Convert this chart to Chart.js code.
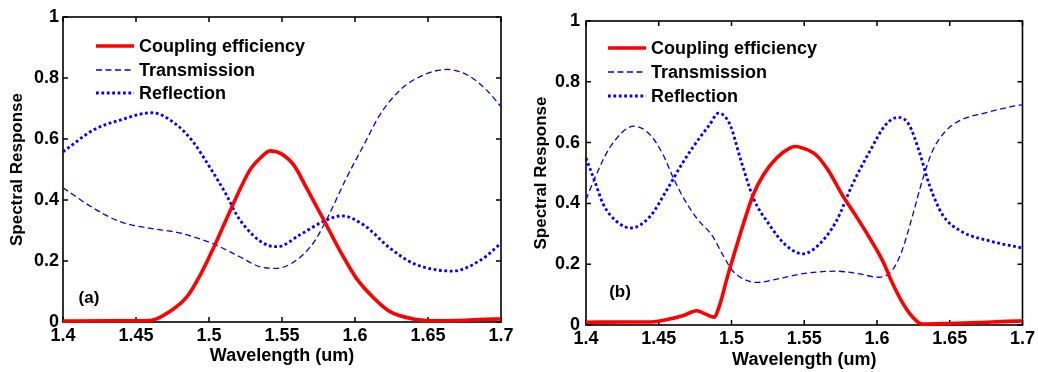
<!DOCTYPE html>
<html>
<head>
<meta charset="utf-8">
<script src="https://cdn.jsdelivr.net/npm/chart.js@4/dist/chart.umd.min.js"></script>
<style>
  html, body { margin: 0; padding: 0; background: #ffffff; }
  #wrap { position: relative; width: 1038px; height: 372px; overflow: hidden; }
  .panel { position: absolute; top: 0; width: 519px; height: 372px; }
</style>
</head>
<body>
<div id="wrap">
  <div class="panel" style="left:0px"><canvas id="chartA"></canvas></div>
  <div class="panel" style="left:519px"><canvas id="chartB"></canvas></div>
</div>
<script>
// ---- axis ticks ----
const xTicks = [1.4, 1.45, 1.5, 1.55, 1.6, 1.65, 1.7];
const xTickLabels = ['1.4', '1.45', '1.5', '1.55', '1.6', '1.65', '1.7'];
const yTicks = [0, 0.2, 0.4, 0.6, 0.8, 1];
const yTickLabels = ['0', '0.2', '0.4', '0.6', '0.8', '1'];

const seriesNames = ['Coupling efficiency', 'Transmission', 'Reflection'];

// ---- panel (a): wavelength (um) / response ----
const aCouplingX = [1.40, 1.43, 1.46, 1.473, 1.485, 1.494, 1.503, 1.515, 1.528, 1.535, 1.542, 1.549, 1.558, 1.567, 1.578, 1.590, 1.601, 1.613, 1.624, 1.640, 1.655, 1.67, 1.685, 1.70];
const aCouplingY = [0.003, 0.004, 0.005, 0.034, 0.083, 0.154, 0.242, 0.370, 0.498, 0.537, 0.561, 0.553, 0.515, 0.438, 0.340, 0.231, 0.143, 0.078, 0.034, 0.010, 0.004, 0.005, 0.008, 0.010];

const aTransX = [1.40, 1.421, 1.439, 1.460, 1.478, 1.494, 1.505, 1.521, 1.535, 1.546, 1.560, 1.572, 1.581, 1.594, 1.606, 1.617, 1.631, 1.647, 1.663, 1.677, 1.690, 1.70];
const aTransY = [0.440, 0.373, 0.329, 0.307, 0.294, 0.272, 0.252, 0.214, 0.181, 0.176, 0.203, 0.263, 0.340, 0.471, 0.580, 0.679, 0.761, 0.810, 0.828, 0.810, 0.761, 0.706];

const aReflX = [1.40, 1.421, 1.439, 1.461, 1.478, 1.489, 1.501, 1.512, 1.519, 1.530, 1.540, 1.547, 1.562, 1.578, 1.591, 1.606, 1.624, 1.640, 1.667, 1.686, 1.70];
const aReflY = [0.558, 0.630, 0.662, 0.686, 0.646, 0.591, 0.504, 0.416, 0.351, 0.285, 0.252, 0.247, 0.285, 0.329, 0.348, 0.318, 0.242, 0.192, 0.167, 0.203, 0.258];

// ---- panel (b): wavelength (um) / response ----
const bCouplingX = [1.40, 1.43, 1.445, 1.455, 1.467, 1.476, 1.483, 1.488, 1.492, 1.497, 1.501, 1.508, 1.515, 1.522, 1.531, 1.540, 1.544, 1.549, 1.558, 1.567, 1.576, 1.585, 1.595, 1.604, 1.610, 1.617, 1.624, 1.631, 1.65, 1.67, 1.69, 1.70];
const bCouplingY = [0.009, 0.010, 0.010, 0.017, 0.031, 0.047, 0.034, 0.026, 0.067, 0.155, 0.220, 0.330, 0.429, 0.494, 0.549, 0.582, 0.587, 0.582, 0.560, 0.505, 0.429, 0.363, 0.286, 0.210, 0.144, 0.078, 0.029, 0.003, 0.005, 0.008, 0.012, 0.013];

const bTransX = [1.40, 1.407, 1.417, 1.433, 1.444, 1.453, 1.460, 1.467, 1.476, 1.487, 1.494, 1.501, 1.512, 1.517, 1.535, 1.549, 1.572, 1.588, 1.601, 1.610, 1.617, 1.624, 1.631, 1.638, 1.647, 1.658, 1.674, 1.690, 1.70];
const bTransY = [0.412, 0.494, 0.588, 0.654, 0.626, 0.560, 0.484, 0.418, 0.352, 0.292, 0.231, 0.177, 0.144, 0.140, 0.155, 0.169, 0.177, 0.168, 0.157, 0.177, 0.242, 0.352, 0.473, 0.571, 0.637, 0.675, 0.697, 0.716, 0.725];

const bReflX = [1.40, 1.406, 1.412, 1.421, 1.431, 1.444, 1.455, 1.467, 1.478, 1.485, 1.491, 1.499, 1.506, 1.515, 1.526, 1.537, 1.549, 1.560, 1.572, 1.583, 1.595, 1.606, 1.615, 1.622, 1.629, 1.636, 1.645, 1.658, 1.677, 1.70];
const bReflY = [0.549, 0.473, 0.396, 0.341, 0.319, 0.357, 0.440, 0.538, 0.615, 0.659, 0.697, 0.659, 0.549, 0.418, 0.330, 0.264, 0.234, 0.264, 0.341, 0.461, 0.571, 0.659, 0.683, 0.659, 0.571, 0.461, 0.363, 0.308, 0.277, 0.253];

// ---- shared styling ----
const FONT_FAMILY = '"Liberation Sans", Arial, sans-serif';
const tickFont = { family: FONT_FAMILY, size: 18, weight: 'bold' };
const xTitleFont = { family: FONT_FAMILY, size: 18, weight: 'bold' };
const yTitleFont = { family: FONT_FAMILY, size: 17, weight: 'bold' };

function pts(xs, ys) { return xs.map((x, i) => ({ x: x, y: ys[i] })); }

function makeDatasets(cx, cy, tx, ty, rx, ry) {
  return [
    { label: seriesNames[0], data: pts(cx, cy), borderColor: '#ff0000', borderWidth: 3.6, borderDash: [] },
    { label: seriesNames[1], data: pts(tx, ty), borderColor: '#0000ff', borderWidth: 1.3, borderDash: [6, 3.5] },
    { label: seriesNames[2], data: pts(rx, ry), borderColor: '#0000ff', borderWidth: 2.8, borderDash: [2.8, 2.6] }
  ].map(d => Object.assign(d, {
    pointRadius: 0, fill: false, cubicInterpolationMode: 'monotone', clip: 6
  }));
}

// Box frame with inward ticks on all four sides
const boxFrame = {
  id: 'boxFrame',
  beforeDatasetsDraw(chart) {
    const { ctx, chartArea: a, scales } = chart;
    const L = 5;
    ctx.save();
    ctx.strokeStyle = '#000';
    ctx.lineWidth = 1.5;
    ctx.beginPath();
    xTicks.forEach(v => {
      const px = scales.x.getPixelForValue(v);
      ctx.moveTo(px, a.bottom); ctx.lineTo(px, a.bottom - L);
      ctx.moveTo(px, a.top); ctx.lineTo(px, a.top + L);
    });
    yTicks.forEach(v => {
      const py = scales.y.getPixelForValue(v);
      ctx.moveTo(a.left, py); ctx.lineTo(a.left + L, py);
      ctx.moveTo(a.right, py); ctx.lineTo(a.right - L, py);
    });
    ctx.stroke();
    ctx.lineWidth = 1.6;
    ctx.strokeRect(a.left, a.top, a.right - a.left, a.bottom - a.top);
    ctx.restore();
  }
};

// Legend drawn inside the axes, plus the panel tag
const innerLegend = {
  id: 'innerLegend',
  afterDraw(chart, args, opts) {
    const { ctx, chartArea: a } = chart;
    ctx.save();
    ctx.font = 'bold 18px ' + FONT_FAMILY;
    ctx.textBaseline = 'middle';
    ctx.textAlign = 'left';
    chart.data.datasets.forEach((ds, i) => {
      const y = a.top + opts.rows[i];
      const x0 = a.left + opts.lineStart;
      ctx.strokeStyle = ds.borderColor;
      ctx.lineWidth = ds.borderWidth;
      ctx.setLineDash(ds.borderDash || []);
      ctx.beginPath();
      ctx.moveTo(x0, y);
      ctx.lineTo(x0 + opts.lineLen, y);
      ctx.stroke();
      ctx.setLineDash([]);
      ctx.fillStyle = '#000';
      ctx.fillText(ds.label, x0 + opts.lineLen + opts.gap, y + 1);
    });
    ctx.font = 'bold 17px ' + FONT_FAMILY;
    ctx.textAlign = 'center';
    ctx.fillText(opts.tag, a.left + opts.tagX, a.top + opts.tagY);
    ctx.restore();
  }
};

function makeChart(id, datasets, lay) {
  return new Chart(document.getElementById(id), {
    type: 'line',
    data: { datasets: datasets },
    plugins: [boxFrame, innerLegend],
    options: {
      responsive: true,
      maintainAspectRatio: false,
      animation: false,
      devicePixelRatio: 1,
      events: [],
      layout: { padding: { left: 0, right: lay.padRight, top: lay.padTop, bottom: 0 } },
      plugins: {
        legend: { display: false },
        tooltip: { enabled: false },
        innerLegend: lay.legend
      },
      scales: {
        x: {
          type: 'linear', min: 1.4, max: 1.7,
          afterBuildTicks: s => { s.ticks = xTicks.map(v => ({ value: v })); },
          afterFit: s => { s.height = lay.xHeight; },
          ticks: {
            callback: (v, i) => xTickLabels[i], font: tickFont, color: '#000',
            padding: lay.xTickPad, maxRotation: 0, autoSkip: false
          },
          grid: { display: false, drawTicks: false },
          border: { display: false },
          title: { display: true, text: 'Wavelength (um)', font: xTitleFont, color: '#000',
                   padding: { top: 0, bottom: lay.xTitlePad } }
        },
        y: {
          type: 'linear', min: 0, max: 1,
          afterBuildTicks: s => { s.ticks = yTicks.map(v => ({ value: v })); },
          afterFit: s => { s.width = lay.yWidth; },
          ticks: {
            callback: (v, i) => yTickLabels[i], font: tickFont, color: '#000',
            padding: lay.yTickPad, autoSkip: false
          },
          grid: { display: false, drawTicks: false },
          border: { display: false },
          title: { display: true, text: 'Spectral Response', font: yTitleFont, color: '#000',
                   padding: { top: lay.yTitlePad, bottom: 0 } }
        }
      }
    }
  });
}

makeChart('chartA',
  makeDatasets(aCouplingX, aCouplingY, aTransX, aTransY, aReflX, aReflY),
  { padRight: 18, padTop: 17, xHeight: 50, yWidth: 63, xTickPad: 3, xTitlePad: 5, yTickPad: 4, yTitlePad: 7,
    legend: { lineStart: 33, lineLen: 38, gap: 5, rows: [29, 53, 76], tag: '(a)', tagX: 26, tagY: 281 } });

makeChart('chartB',
  makeDatasets(bCouplingX, bCouplingY, bTransX, bTransY, bReflX, bReflY),
  { padRight: 13, padTop: 21, xHeight: 47, yWidth: 67, xTickPad: 3, xTitlePad: 1, yTickPad: 6, yTitlePad: 12,
    legend: { lineStart: 22, lineLen: 38, gap: 5, rows: [27, 51, 75], tag: '(b)', tagX: 34, tagY: 271 } });
</script>
</body>
</html>
